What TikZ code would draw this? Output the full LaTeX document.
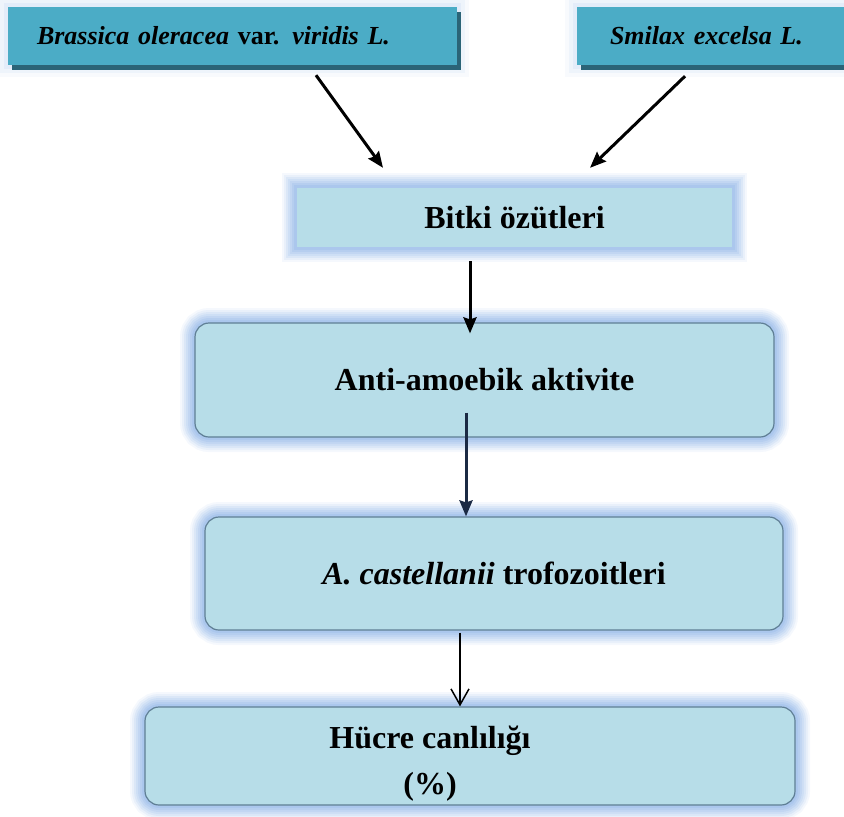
\documentclass[tikz,border=0pt]{standalone}
\usepackage{fontspec}
\setmainfont{Liberation Serif}
\usetikzlibrary{arrows.meta,shadows}

\definecolor{tealbox}{HTML}{4BACC6}
\definecolor{tealshade}{HTML}{2B6477}
\definecolor{paleblue}{HTML}{B7DDE8}
\definecolor{glowblue}{HTML}{6F9FE0}
\definecolor{rimgray}{HTML}{5F7F95}
\definecolor{navyarrow}{HTML}{1B2A44}

\begin{document}
\begin{tikzpicture}[x=1pt,y=-1pt,
  glow/.style={preaction={draw=glowblue,line width=30pt,draw opacity=0.07},
               preaction={draw=glowblue,line width=26pt,draw opacity=0.09},
               preaction={draw=glowblue,line width=22pt,draw opacity=0.11},
               preaction={draw=glowblue,line width=18pt,draw opacity=0.12},
               preaction={draw=glowblue,line width=14pt,draw opacity=0.13},
               preaction={draw=glowblue,line width=10pt,draw opacity=0.14},
               preaction={draw=glowblue,line width=6pt,draw opacity=0.15}},
  softglow/.style={preaction={draw=glowblue,line width=24pt,draw opacity=0.05},
                   preaction={draw=glowblue,line width=16pt,draw opacity=0.07},
                   preaction={draw=glowblue,line width=8pt,draw opacity=0.09}},
  plantbox/.style={softglow,drop shadow={shadow xshift=4pt,shadow yshift=-5pt,fill=tealshade,opacity=1},
                   fill=tealbox,minimum height=58pt,align=left,
                   font=\fontsize{26}{31}\selectfont\bfseries\itshape},
  flatbox/.style={glow,fill=paleblue,font=\fontsize{32}{38}\selectfont\bfseries},
  roundbox/.style={glow,fill=paleblue,draw=rimgray,line width=1.2pt,rounded corners=14pt,
                   font=\fontsize{32}{38}\selectfont\bfseries},
  thickarrow/.style={line width=3pt,-{Stealth[length=16pt,width=13pt,inset=2pt]}},
  thinarrow/.style={line width=1.5pt,-{Straight Barb[length=16pt,width=18pt,line width=1.5pt]}}]
\useasboundingbox (0,0) rectangle (844,817);
\clip (0,0) rectangle (844,817);

% plant boxes on top
\node[plantbox,inner xsep=29pt,text width=391pt] (brassica) at (232.5,36)
  {Brassica oleracea \textup{var.} viridis L.};
\node[plantbox,inner xsep=33pt,text width=234pt] (smilax) at (727,36)
  {Smilax excelsa L.};

% flow
\node[flatbox,minimum width=435pt,minimum height=59pt] (bitki) at (514.5,217.5) {Bitki özütleri};
\node[roundbox,minimum width=579pt,minimum height=114pt] (anti) at (484.5,380) {Anti-amoebik aktivite};
\node[roundbox,minimum width=578pt,minimum height=113pt] (acast) at (494,573.5)
  {\textit{A. castellanii} trofozoitleri};
\node[roundbox,minimum width=650pt,minimum height=98pt] (hucre) at (470,756) {};
\node[align=center,font=\fontsize{32}{46}\selectfont\bfseries] (hucretext) at (430,764)
  {Hücre canlılığı\\(\%)};

\draw[thickarrow] ([xshift=83.5pt,yshift=-10pt]brassica.south) -- ([xshift=-131.5pt,yshift=20pt]bitki.north);
\draw[thickarrow] ([xshift=-42pt,yshift=-11pt]smilax.south) -- ([xshift=75.5pt,yshift=20pt]bitki.north);
\draw[thickarrow] ([xshift=-44.5pt,yshift=-14pt]bitki.south) -- ([xshift=-14.5pt,yshift=-11pt]anti.north);
\draw[thickarrow,navyarrow] ([xshift=-18.5pt,yshift=25pt]anti.south) -- ([xshift=-28pt]acast.north);
\draw[thinarrow] ([xshift=-34pt,yshift=-2pt]acast.south) -- ([xshift=-10pt]hucre.north);
\end{tikzpicture}
\end{document}
